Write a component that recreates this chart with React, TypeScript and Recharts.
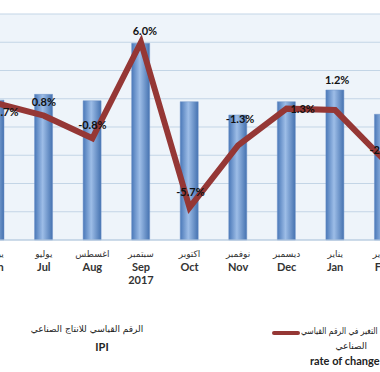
import React from "react";
import {
  ComposedChart,
  Bar,
  Line,
  XAxis,
  YAxis,
  CartesianGrid,
  LabelList,
} from "recharts";

const months = ["Jun", "Jul", "Aug", "Sep", "Oct", "Nov", "Dec", "Jan", "Feb"];
const monthsAr = ["يونيو", "يوليو", "اغسطس", "سبتمبر", "اكتوبر", "نوفمبر", "ديسمبر", "يناير", "فبراير"];
const ipiValues = [99, 103.1, 98.6, 139.3, 97.9, 88.5, 97.9, 106.2, 89];
const rateOfChange = [1.7, 0.8, -0.8, 6.0, -5.7, -1.3, 1.3, 1.2, -2.3];
const ipiTicks = [0, 20, 40, 60, 80, 100, 120, 140, 160];

// hand-placed label offsets, like the excel original
const labelShift = [
  [11, 9], [0, -14], [0, -14], [4, -12], [1, -16], [2, -27], [16, 0], [2, -31], [0, -10],
];

const rows = months.map((m, i) => ({
  month: m,
  ar: monthsAr[i],
  ipi: ipiValues[i],
  rate: rateOfChange[i],
}));

const RED = "#953735";

function MonthTick(props: any) {
  const { x, y, payload, index } = props;
  const i = index ?? months.indexOf(payload.value);
  return (
    <g transform={`translate(${x},${y})`}>
      <text x={0} y={9} textAnchor="middle" fontSize={9} fontFamily="DejaVu Sans" fill="#333" direction="rtl">
        {monthsAr[i]}
      </text>
      <text x={0} y={23} textAnchor="middle" fontSize={11} fontWeight="bold" fontFamily="Lato" fill="#333">
        {payload.value}
      </text>
      {payload.value === "Sep" && (
        <text x={0} y={36} textAnchor="middle" fontSize={11} fontWeight="bold" fontFamily="Lato" fill="#333">
          2017
        </text>
      )}
    </g>
  );
}

function RateLabel(props: any) {
  const { x, y, value, index } = props;
  const [dx, dy] = labelShift[index] || [0, -12];
  return (
    <text
      x={x + dx}
      y={y + dy}
      textAnchor="middle"
      dominantBaseline="central"
      fontSize={11}
      fontWeight="bold"
      fontFamily="Lato"
      fill="#111"
    >
      {Number(value).toFixed(1)}%
    </text>
  );
}

export default function App() {
  return (
    <div
      style={{
        position: "absolute",
        left: 0,
        top: 0,
        width: 380,
        height: 372,
        overflow: "hidden",
        background: "#fff",
      }}
    >
      <div style={{ position: "absolute", left: -29, top: 0 }}>
        <ComposedChart width={437} height={372} data={rows} margin={{ top: 14, right: 0, bottom: 0, left: 0 }}>
          <defs>
            <linearGradient id="barFill" x1="0" y1="0" x2="1" y2="0">
              <stop offset="0%" stopColor="#4A78B8" />
              <stop offset="45%" stopColor="#9DBDE7" />
              <stop offset="100%" stopColor="#4572B0" />
            </linearGradient>
          </defs>
          <CartesianGrid vertical={false} stroke="#C3D5E6" fill="#EEF4FA" />
          <XAxis
            dataKey="month"
            height={132}
            interval={0}
            tick={<MonthTick />}
            tickLine={false}
            axisLine={{ stroke: "#B9CCE0" }}
          />
          <YAxis hide domain={[0, 160]} ticks={ipiTicks} />
          <YAxis yAxisId="rate" orientation="right" hide domain={[-8, 8]} />
          <Bar dataKey="ipi" barSize={18} fill="url(#barFill)" stroke="#6F93C9" strokeWidth={0.5} isAnimationActive={false} />
          <Line
            yAxisId="rate"
            type="linear"
            dataKey="rate"
            stroke={RED}
            strokeWidth={6}
            dot={false}
            activeDot={false}
            isAnimationActive={false}
          >
            <LabelList dataKey="rate" content={<RateLabel />} />
          </Line>
        </ComposedChart>
      </div>

      {/* legend, drawn by hand */}
      <div
        dir="rtl"
        style={{
          position: "absolute",
          left: 20,
          width: 134,
          top: 324,
          textAlign: "center",
          fontFamily: "DejaVu Sans",
          fontSize: 9,
          color: "#222",
          whiteSpace: "nowrap",
        }}
      >
        الرقم القياسي للانتاج الصناعي
      </div>
      <div
        style={{
          position: "absolute",
          left: 72,
          width: 60,
          top: 340,
          textAlign: "center",
          fontFamily: "Lato",
          fontWeight: "bold",
          fontSize: 11,
          color: "#222",
        }}
      >
        IPI
      </div>
      <span
        style={{
          position: "absolute",
          left: 272,
          top: 331,
          width: 28,
          height: 4,
          borderRadius: 2,
          background: RED,
        }}
      />
      <div
        dir="rtl"
        style={{
          position: "absolute",
          left: 301,
          top: 326,
          fontFamily: "DejaVu Sans",
          fontSize: 9,
          color: "#222",
          whiteSpace: "nowrap",
          transform: "scaleX(0.84)",
          transformOrigin: "left center",
        }}
      >
        التغير في الرقم القياسي
      </div>
      <div
        dir="rtl"
        style={{
          position: "absolute",
          right: 13,
          top: 341,
          fontFamily: "DejaVu Sans",
          fontSize: 9,
          color: "#222",
          whiteSpace: "nowrap",
        }}
      >
        الصناعي
      </div>
      <div
        style={{
          position: "absolute",
          left: 310,
          top: 354,
          fontFamily: "Lato",
          fontWeight: "bold",
          fontSize: 11,
          color: "#222",
          whiteSpace: "nowrap",
        }}
      >
        rate of change
      </div>
    </div>
  );
}
